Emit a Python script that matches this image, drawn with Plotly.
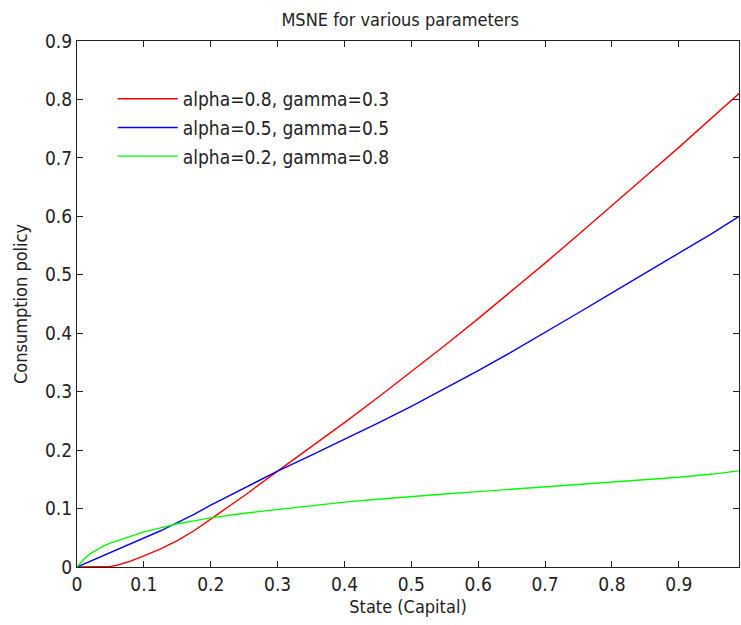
import plotly.graph_objects as go

# State (Capital) grid
x_state = [0, 0.01, 0.02, 0.03, 0.04, 0.05, 0.06, 0.08, 0.1, 0.125, 0.15, 0.175, 0.2,
           0.25, 0.3, 0.35, 0.4, 0.45, 0.5, 0.55, 0.6, 0.65, 0.7, 0.75, 0.8, 0.85,
           0.9, 0.95, 0.99]

# Consumption policy for each parameter set
red_a08_g03 = [0, 0, 0, 0, 0, 0.001, 0.003, 0.010, 0.019, 0.031, 0.045, 0.062, 0.082,
               0.122, 0.164, 0.205, 0.247, 0.290, 0.334, 0.379, 0.425, 0.472, 0.520,
               0.569, 0.618, 0.668, 0.718, 0.769, 0.810]
blue_a05_g05 = [0, 0.005, 0.010, 0.015, 0.020, 0.025, 0.030, 0.040, 0.050, 0.062, 0.076,
                0.090, 0.106, 0.135, 0.164, 0.191, 0.218, 0.246, 0.275, 0.305, 0.336,
                0.368, 0.401, 0.435, 0.469, 0.503, 0.537, 0.571, 0.600]
green_a02_g08 = [0, 0.013, 0.023, 0.030, 0.036, 0.041, 0.045, 0.053, 0.060, 0.067, 0.074,
                 0.079, 0.084, 0.092, 0.0985, 0.105, 0.111, 0.116, 0.121, 0.125, 0.129,
                 0.133, 0.137, 0.141, 0.145, 0.149, 0.1535, 0.159, 0.1645]

series_names = ["alpha=0.8, gamma=0.3", "alpha=0.5, gamma=0.5", "alpha=0.2, gamma=0.8"]
series_colors = ["#ff0000", "#0000ff", "#00ff00"]
series_values = [red_a08_g03, blue_a05_g05, green_a02_g08]

x_ticks = [0, 0.1, 0.2, 0.3, 0.4, 0.5, 0.6, 0.7, 0.8, 0.9]
x_tick_labels = ["0", "0.1", "0.2", "0.3", "0.4", "0.5", "0.6", "0.7", "0.8", "0.9"]
y_ticks = [0, 0.1, 0.2, 0.3, 0.4, 0.5, 0.6, 0.7, 0.8, 0.9]
y_tick_labels = ["0", "0.1", "0.2", "0.3", "0.4", "0.5", "0.6", "0.7", "0.8", "0.9"]

FONT = "Liberation Sans Narrow, Arial Narrow, DejaVu Sans Condensed, sans-serif"
TXT = "#222222"
FS_TICK = 19
FS_LEG = 19
FS_TITLE = 18

fig = go.Figure()
for i, (name, col, vals) in enumerate(zip(series_names, series_colors, series_values)):
    fig.add_trace(go.Scatter(x=x_state, y=vals, mode="lines", name=name,
                             legendgroup=f"g{i}",
                             line=dict(color=col, width=1.4)))

axis_common = dict(showline=True, linecolor=TXT, linewidth=1, mirror="ticks",
                   ticks="inside", ticklen=6, tickcolor=TXT, showgrid=False,
                   zeroline=False, automargin=False,
                   tickfont=dict(size=FS_TICK, color=TXT, family=FONT))

fig.update_layout(
    width=741, height=625,
    margin=dict(l=77, r=2, t=41, b=58),
    paper_bgcolor="white", plot_bgcolor="white",
    font=dict(family=FONT, size=FS_TICK, color=TXT),
    title=dict(text="MSNE for various parameters", x=0.54, xanchor="center",
               y=0.968, yanchor="middle", font=dict(size=FS_TITLE, color=TXT)),
    xaxis=dict(range=[0, 0.99], tickvals=x_ticks, ticktext=x_tick_labels,
               title=dict(text="State (Capital)", standoff=6,
                          font=dict(size=FS_TITLE, color=TXT)),
               **axis_common),
    yaxis=dict(range=[0, 0.9], tickvals=y_ticks, ticktext=y_tick_labels,
               title=dict(text="Consumption policy", standoff=12,
                          font=dict(size=FS_TITLE, color=TXT)),
               **axis_common),
    legend=dict(x=0.054, y=0.926, xanchor="left", yanchor="top",
                bgcolor="rgba(0,0,0,0)", borderwidth=0,
                font=dict(size=FS_LEG, color=TXT),
                itemwidth=60, tracegroupgap=1),
    showlegend=True,
)

fig.write_html("out.html",
               config={"displayModeBar": False},
               post_script="document.body.style.margin='0';"
                           "document.body.style.overflow='hidden';")
